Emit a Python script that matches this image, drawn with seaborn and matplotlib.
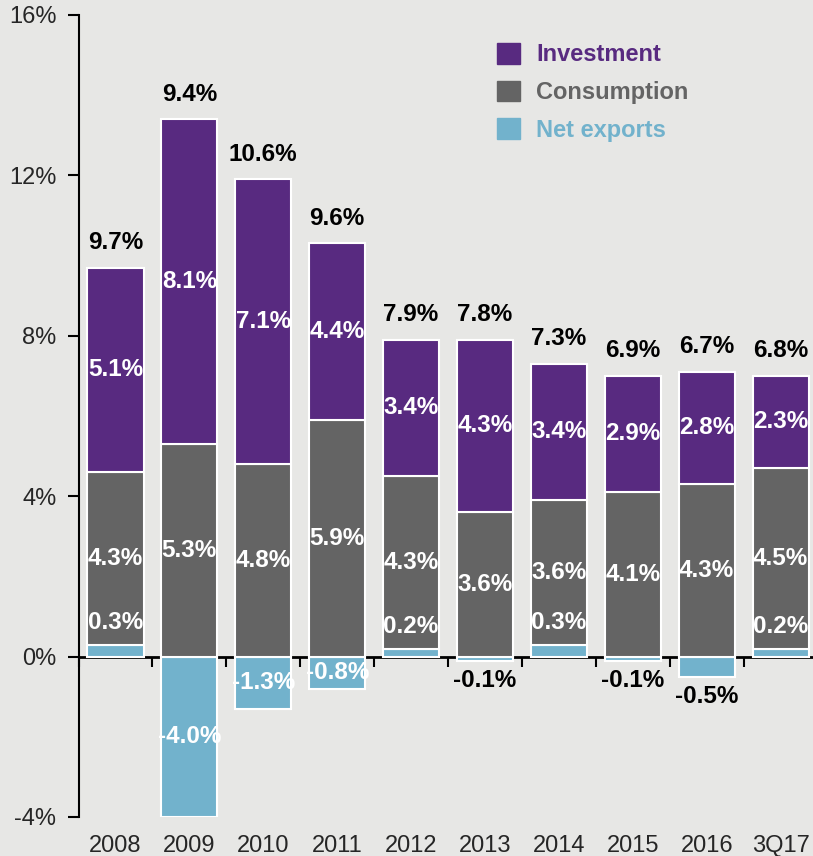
import matplotlib
matplotlib.use('Agg')
import matplotlib.pyplot as plt
import matplotlib.patches as mpatches
import numpy as np
import pandas as pd
import seaborn as sns

# contributions to GDP growth, percentage points
periods = ['2008', '2009', '2010', '2011', '2012', '2013', '2014', '2015', '2016', '3Q17']
net_exports = [0.3, -4.0, -1.3, -0.8, 0.2, -0.1, 0.3, -0.1, -0.5, 0.2]
consumption = [4.3, 5.3, 4.8, 5.9, 4.3, 3.6, 3.6, 4.1, 4.3, 4.5]
investment = [5.1, 8.1, 7.1, 4.4, 3.4, 4.3, 3.4, 2.9, 2.8, 2.3]
gdp_growth = [9.7, 9.4, 10.6, 9.6, 7.9, 7.8, 7.3, 6.9, 6.7, 6.8]
y_ticks = [-4, 0, 4, 8, 12, 16]

bg = '#e7e7e5'
purple = '#582a80'
grey = '#646464'
blue = '#72b2cc'

sns.set_style('white', {'axes.facecolor': bg, 'figure.facecolor': bg})
plt.rcParams['font.family'] = ['Liberation Sans', 'DejaVu Sans']

df = pd.DataFrame({'period': periods, 'net': net_exports, 'cons': consumption,
                   'inv': investment, 'gdp': gdp_growth})
df['cons_base'] = df['net'].clip(lower=0)
df['inv_base'] = df['cons_base'] + df['cons']
df['top'] = df['inv_base'] + df['inv']

fig = plt.figure(figsize=(8.13, 8.56), dpi=100)
ax = fig.add_axes([0.0966, 0.0456, 0.909, 0.937])

bar_kw = dict(width=0.76, edgecolor='white', linewidth=1.5, ax=ax, order=periods,
              saturation=1, errorbar=None)
sns.barplot(data=df, x='period', y='net', color=blue, **bar_kw)
sns.barplot(data=df, x='period', y='cons', bottom=df['cons_base'].to_numpy(), color=grey, **bar_kw)
sns.barplot(data=df, x='period', y='inv', bottom=df['inv_base'].to_numpy(), color=purple, **bar_kw)

lab = dict(ha='center', va='center', fontsize=17.5, fontweight='bold')
for i, r in df.iterrows():
    ax.text(i, r.inv_base + r.inv / 2, f'{r.inv:.1f}%', color='white', **lab)
    ax.text(i, r.cons_base + r.cons / 2, f'{r.cons:.1f}%', color='white', **lab)
    ax.annotate(f'{r.gdp:.1f}%', (i, r.top), xytext=(0, 18), textcoords='offset points',
                color='black', **lab)
    if r.net > 0:
        ax.text(i, r.net + 0.55, f'{r.net:.1f}%', color='white', **lab)
    elif r.net <= -0.8:
        ax.text(i, r.net / 2, f'{r.net:.1f}%', color='white', **lab)
    else:
        ax.annotate(f'{r.net:.1f}%', (i, r.net), xytext=(0, -14), textcoords='offset points',
                    color='black', **lab)

handles = [mpatches.Patch(color=c, label=l) for c, l in
           [(purple, 'Investment'), (grey, 'Consumption'), (blue, 'Net exports')]]
ax.legend(handles=handles, loc='upper left', bbox_to_anchor=(497 / 813, 1 - 43 / 856),
          bbox_transform=fig.transFigure, frameon=False, borderpad=0, borderaxespad=0,
          handlelength=0.97, handleheight=0.97, handletextpad=0.68, labelspacing=0.6,
          labelcolor=[purple, grey, blue], prop={'weight': 'bold', 'size': 17})

ax.set_ylim(-4, 16)
ax.set_xlim(-0.5, len(periods) - 0.5)
ax.set_yticks(y_ticks, [f'{v}%' for v in y_ticks])
ax.tick_params(axis='y', direction='out', length=8, width=1.5, pad=8, labelsize=17,
               left=True, color='black')
ax.tick_params(axis='x', length=0, pad=13, labelsize=17)
for s in ['top', 'right', 'bottom']:
    ax.spines[s].set_visible(False)
ax.spines['left'].set_linewidth(1.5)
ax.spines['left'].set_color('black')
ax.set_xlabel('')
ax.set_ylabel('')

# zero line with ticks between the bars
ymin, ymax = ax.get_ylim()
sec = ax.secondary_xaxis((0 - ymin) / (ymax - ymin))
sec.set_xticks(np.arange(len(periods) + 1) - 0.5, labels=[])
sec.tick_params(direction='out', length=7, width=1.5, bottom=True, color='black')
sec.spines['bottom'].set_linewidth(2)
sec.spines['bottom'].set_color('black')

fig.savefig('out.png', dpi=100, facecolor=bg)
